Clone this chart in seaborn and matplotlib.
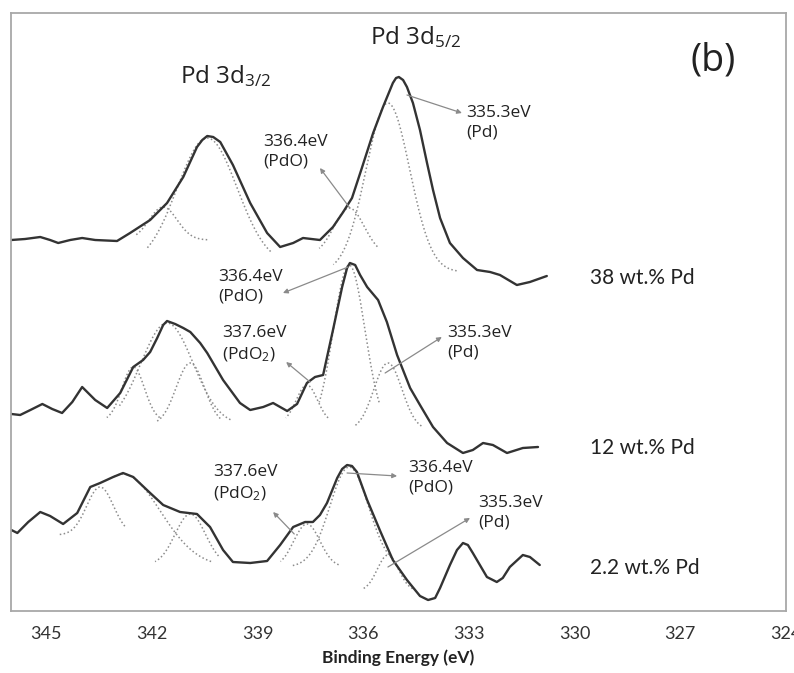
import numpy as np
import pandas as pd
import matplotlib
matplotlib.use("Agg")
import matplotlib.pyplot as plt
import seaborn as sns

# ---------------------------------------------------------------
# Pd 3d XPS spectra, binding energy (eV) vs. stacked intensity (a.u.)
# ---------------------------------------------------------------
energy_38 = [345.99, 345.60, 345.17, 344.89, 344.66, 344.32, 343.98, 343.61,
             342.99, 342.62, 342.05, 341.57, 341.11, 340.72, 340.57, 340.43,
             340.26, 340.06, 339.70, 339.21, 338.73, 338.36, 337.99, 337.71,
             337.23, 336.86, 336.57, 336.32, 336.04, 335.72, 335.44, 335.16,
             335.07, 334.99, 334.87, 334.76, 334.59, 334.39, 334.19, 334.02,
             333.82, 333.54, 333.17, 332.77, 332.40, 332.12, 331.64, 331.27,
             330.79]
intensity_38 = [371, 372, 374, 371, 368, 371, 373, 371,
                370, 378, 391, 408, 434, 464, 471, 475,
                474, 469, 446, 408, 378, 364, 368, 373,
                371, 384, 399, 413, 443, 478, 504, 528,
                533, 534, 531, 524, 508, 481, 448, 421,
                393, 368, 353, 341, 339, 336, 326, 329,
                335]

energy_12 = [345.99, 345.74, 345.45, 345.11, 344.83, 344.55, 344.26, 343.98,
             343.61, 343.27, 342.90, 342.53, 342.25, 342.05, 341.85, 341.68,
             341.57, 341.34, 341.11, 340.91, 340.63, 340.43, 339.98, 339.50,
             339.21, 338.84, 338.56, 338.16, 337.88, 337.60, 337.37, 337.14,
             336.86, 336.60, 336.46, 336.38, 336.23, 336.09, 335.89, 335.58,
             335.33, 335.04, 334.67, 334.39, 334.02, 333.62, 333.17, 332.89,
             332.60, 332.32, 331.92, 331.47, 331.04]
intensity_12 = [197, 196, 201, 207, 202, 198, 209, 224,
                211, 203, 218, 244, 251, 259, 273, 286,
                290, 287, 283, 279, 268, 258, 231, 208,
                201, 204, 208, 200, 207, 228, 234, 236,
                281, 324, 343, 348, 346, 336, 324, 311,
                289, 256, 223, 206, 184, 168, 158, 161,
                168, 166, 158, 163, 164]

energy_2 = [345.99, 345.82, 345.51, 345.17, 344.89, 344.52, 344.12, 343.75,
            343.47, 343.10, 342.82, 342.53, 342.05, 341.68, 341.20, 340.72,
            340.35, 339.98, 339.70, 339.21, 338.73, 338.36, 337.99, 337.65,
            337.43, 337.23, 337.03, 336.74, 336.60, 336.46, 336.32, 336.18,
            335.89, 335.52, 335.16, 334.76, 334.39, 334.16, 333.96, 333.82,
            333.54, 333.34, 333.17, 333.03, 332.89, 332.49, 332.21, 332.04,
            331.84, 331.47, 331.27, 330.99]
intensity_2 = [81, 78, 89, 99, 95, 87, 98, 124,
               128, 134, 138, 134, 118, 106, 99, 97,
               84, 61, 49, 48, 50, 66, 84, 89,
               89, 96, 108, 133, 142, 146, 145, 139,
               111, 80, 51, 31, 15, 11, 13, 23,
               46, 61, 68, 66, 58, 34, 29, 33,
               44, 56, 54, 46]

# ---------------------------------------------------------------
# Gaussian fit components: centre (eV), peak and baseline intensity,
# width sigma (eV), drawn span towards higher / lower binding energy (eV)
# ---------------------------------------------------------------
fit_38_center = [341.68, 340.43, 336.4, 335.3]
fit_38_peak = [404, 473, 403, 508]
fit_38_base = [371, 346, 356, 339]
fit_38_sigma = [0.40, 0.85, 0.43, 0.62]
fit_38_span_hi = [0.80, 1.70, 0.85, 1.55]
fit_38_span_lo = [1.25, 1.80, 0.80, 1.95]
fit_38_state = [None, None, "PdO", "Pd"]

fit_12_center = [342.53, 341.57, 340.91, 337.6, 336.4, 335.3]
fit_12_peak = [244, 288, 248, 226, 346, 248]
fit_12_base = [190, 186, 186, 188, 181, 181]
fit_12_sigma = [0.32, 0.74, 0.40, 0.30, 0.45, 0.40]
fit_12_span_hi = [0.75, 1.35, 0.94, 0.60, 0.85, 0.95]
fit_12_span_lo = [0.75, 1.80, 0.85, 0.60, 0.85, 0.95]
fit_12_state = [None, None, None, "PdO$_2$", "PdO", "Pd"]

fit_2_center = [343.47, 342.82, 340.91, 337.6, 336.4, 335.3]
fit_2_peak = [124, 137, 97, 87, 144, 56]
fit_2_base = [76, 44, 46, 44, 44, 20]
fit_2_sigma = [0.38, 1.05, 0.43, 0.37, 0.55, 0.30]
fit_2_span_hi = [1.20, 0.30, 1.00, 0.75, 1.60, 0.70]
fit_2_span_lo = [0.70, 2.50, 0.80, 0.90, 1.20, 0.70]
fit_2_state = [None, None, None, "PdO$_2$", "PdO", "Pd"]

sample_names = ["38 wt.% Pd", "12 wt.% Pd", "2.2 wt.% Pd"]
tick_values = [345, 342, 339, 336, 333, 330, 327, 324]

# ---------------------------------------------------------------
sns.set_theme(style="white")
plt.rcParams["font.family"] = ["Open Sans", "DejaVu Sans"]
plt.rcParams["mathtext.fontset"] = "custom"
plt.rcParams["mathtext.rm"] = "Open Sans"
plt.rcParams["mathtext.it"] = "Open Sans:italic"
plt.rcParams["mathtext.bf"] = "Open Sans:bold"

fig = plt.figure(figsize=(7.94, 6.73), dpi=100)
ax = fig.add_axes([11 / 794, 62 / 673, 775 / 794, 598 / 673])

spectra = [
    (energy_38, intensity_38),
    (energy_12, intensity_12),
    (energy_2, intensity_2),
]
fits = [
    (fit_38_center, fit_38_peak, fit_38_base, fit_38_sigma, fit_38_span_hi, fit_38_span_lo, fit_38_state),
    (fit_12_center, fit_12_peak, fit_12_base, fit_12_sigma, fit_12_span_hi, fit_12_span_lo, fit_12_state),
    (fit_2_center, fit_2_peak, fit_2_base, fit_2_sigma, fit_2_span_hi, fit_2_span_lo, fit_2_state),
]

comp_color = "#8c8c8c"
line_color = "#333333"
arrow_color = "#8a8a8a"
text_color = "#222222"

# fitted components (dotted)
for centers, peaks, bases, sigmas, span_hi, span_lo, _ in fits:
    for c, p, b, s, hi, lo in zip(centers, peaks, bases, sigmas, span_hi, span_lo):
        e = np.linspace(c - lo, c + hi, 160)
        comp = b + (p - b) * np.exp(-(e - c) ** 2 / (2 * s ** 2))
        df = pd.DataFrame({"energy": e, "intensity": comp})
        sns.lineplot(data=df, x="energy", y="intensity", ax=ax, color=comp_color,
                     linestyle=(0, (1, 1.6)), linewidth=1.1, estimator=None, sort=False)

# measured envelopes
for energy, intensity in spectra:
    df = pd.DataFrame({"energy": energy, "intensity": intensity})
    sns.lineplot(data=df, x="energy", y="intensity", ax=ax, color=line_color,
                 linewidth=1.7, estimator=None, sort=False)

# chemical-state annotations: text anchor, arrow tail (on peak), arrow head (at text)
annot_layout = {
    (0, "PdO"): ((338.84, 477), (336.38, 403), (337.23, 443)),
    (0, "Pd"): ((333.09, 506), (334.76, 516), (333.20, 498)),
    (1, "PdO"): ((340.12, 342), (336.43, 344), (338.28, 318)),
    (1, "PdO$_2$"): ((340.01, 286), (337.51, 229), (338.19, 249)),
    (1, "Pd"): ((333.62, 286), (335.38, 238), (333.77, 274)),
    (2, "PdO$_2$"): ((340.26, 147), (337.96, 77), (338.56, 99)),
    (2, "PdO"): ((334.73, 151), (336.46, 138), (335.04, 135)),
    (2, "Pd"): ((332.74, 116), (335.30, 44), (332.97, 93)),
}
for i, (centers, *_, states) in enumerate(fits):
    for c, st in zip(centers, states):
        if st is None:
            continue
        (tx, ty), tail, head = annot_layout[(i, st)]
        ax.text(tx, ty, f"{c:.1f}eV\n({st})", ha="left", va="top", fontsize=12.5,
                linespacing=1.3, color=text_color)
        ax.annotate("", xy=head, xytext=tail,
                    arrowprops=dict(arrowstyle="-|>", color=arrow_color, lw=0.9,
                                    mutation_scale=7, shrinkA=0, shrinkB=0))

# sample labels
for name, ypos in zip(sample_names, [333, 163, 43]):
    ax.text(329.55, ypos, name, ha="left", va="center", fontsize=15,
            family=["Lato", "DejaVu Sans"], color=text_color)

# spin-orbit headings and panel tag
ax.text(341.20, 528, "Pd 3d$_{3/2}$", fontsize=17.5, ha="left", va="baseline", color=text_color)
ax.text(335.81, 567, "Pd 3d$_{5/2}$", fontsize=17.5, ha="left", va="baseline", color=text_color)
ax.text(326.70, 551, "(b)", fontsize=27, ha="left", va="center", color=text_color)

# axes
ax.set_xlim(346, 324)
ax.set_ylim(0, 598)
ax.set_xticks(tick_values)
ax.set_xticklabels([str(v) for v in tick_values],
                   family=["Lato", "DejaVu Sans"], fontsize=13, color="#333333")
ax.set_yticks([])
ax.set_ylabel("")
ax.set_xlabel("Binding Energy (eV)", family=["Lato", "DejaVu Sans"], fontsize=12.5,
              fontweight="bold", color="#222222", labelpad=6)
for sp in ax.spines.values():
    sp.set_color("#a8a8a8")
    sp.set_linewidth(1.3)
ax.tick_params(axis="x", direction="inout", length=9, width=1.0, color="#a8a8a8", pad=6)

fig.savefig("out.png", dpi=100, facecolor="white")
